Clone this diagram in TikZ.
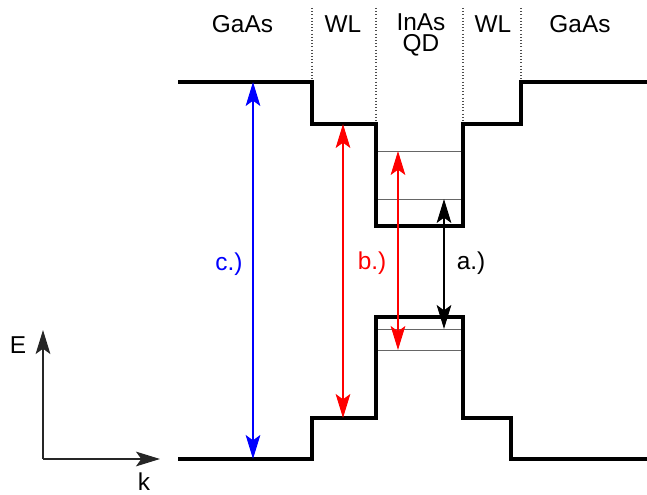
\documentclass[tikz,border=0pt]{standalone}
\usepackage{fontspec}
\setmainfont{Liberation Sans}
\usetikzlibrary{arrows.meta}
\tikzset{
  band/.style={line width=2.3pt, line join=miter},
  level/.style={line width=0.7pt, draw=black!60},
  divider/.style={line width=0.8pt, draw=black!70, dash pattern=on 0.8pt off 1.6pt},
  trans/.style={line width=1.1pt, {Stealth[length=18pt,width=11pt,inset=4pt]}-{Stealth[length=18pt,width=11pt,inset=4pt]}},
  axis/.style={line width=1.4pt, draw=black!85, -{Stealth[length=18pt,width=11pt,inset=4pt]}},
  lbl/.style={font=\fontsize{18.3}{20}\selectfont, anchor=base, inner sep=0pt},
}
\begin{document}
\begin{tikzpicture}[x=0.75pt,y=-0.75pt]
\useasboundingbox (0,0) rectangle (647,495);
% dividers
\draw[divider] (312,8) -- (312,82);
\draw[divider] (376,8) -- (376,124);
\draw[divider] (463,8) -- (463,124);
\draw[divider] (521,8) -- (521,82);
% levels
\draw[level] (376,151) -- (463,151);
\draw[level] (376,199) -- (463,199);
\draw[level] (376,329) -- (463,329);
\draw[level] (376,350) -- (463,350);
% bands
\draw[band] (178,82) -- (312,82) -- (312,124) -- (376,124) -- (376,226) -- (463,226) -- (463,124) -- (521,124) -- (521,82) -- (647,82);
\draw[band] (178,459) -- (312,459) -- (312,418) -- (376,418) -- (376,317) -- (463,317) -- (463,418) -- (511,418) -- (511,459) -- (647,459);
% coordinates for transitions
\coordinate (cT) at (253,82);  \coordinate (cB) at (253,459);
\coordinate (bT) at (343,124); \coordinate (bB) at (343,418);
\coordinate (dT) at (398,151); \coordinate (dB) at (398,350);
\coordinate (aT) at (444,199); \coordinate (aB) at (444,329);
\draw[trans, blue] (cT) -- (cB);
\draw[trans, red] (bT) -- (bB);
\draw[trans, red] (dT) -- (dB);
\draw[trans, black] (aT) -- (aB);
% labels
\node[lbl] (l1) at (242.5,33) {GaAs};
\node[lbl] (l2) at (343,33) {WL};
\node[lbl, align=center, anchor=base, font=\fontsize{18.3}{15.75}\selectfont] (l3) at (421,52) {InAs\\QD};
\node[lbl] (l5) at (493,33) {WL};
\node[lbl] (l6) at (580,33) {GaAs};
\node[lbl, text=blue] (lc) at (229,271) {c.)};
\node[lbl, text=red] (lb) at (372,270) {b.)};
\node[lbl] (la) at (471,270) {a.)};
% axes
\coordinate (O) at (43,459);
\coordinate (Ey) at (43,330);
\coordinate (Kx) at (160,459);
\draw[axis] (O) -- (Ey);
\draw[axis] (O) -- (Kx);
\node[lbl] (E) at (18,354) {E};
\node[lbl] (k) at (144,491) {k};
\end{tikzpicture}
\end{document}
